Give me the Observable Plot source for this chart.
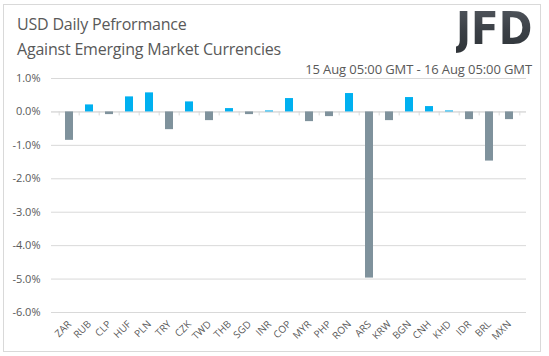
<!DOCTYPE html>
<html>
<head>
<meta charset="utf-8">
<script src="https://cdn.jsdelivr.net/npm/d3@7"></script>
<script src="https://cdn.jsdelivr.net/npm/@observablehq/plot@0.6"></script>
<style>
  html, body { margin: 0; padding: 0; background: #fff; }
  #wrap { position: relative; width: 549px; height: 356px; overflow: hidden; font-family: "Open Sans", Lato, sans-serif; }
  #frame { position: absolute; left: 3px; top: 4px; width: 538px; height: 348px; border: 1px solid #d9d9d9; box-sizing: border-box; pointer-events: none; }
  #title { position: absolute; left: 17px; top: 12px; font-size: 16px; line-height: 25px; color: #595959; letter-spacing: -0.2px; }
  #sub { position: absolute; right: 17px; top: 60px; font-size: 13px; color: #595959; letter-spacing: -0.1px; }
  #logo { position: absolute; left: 456px; top: 2px; font-family: "DejaVu Sans Condensed", "DejaVu Sans", sans-serif; font-weight: bold; font-size: 45px; letter-spacing: 0px;
          background: linear-gradient(180deg, #555a61 0%, #3a3f45 55%, #2f3338 100%); -webkit-background-clip: text; background-clip: text; color: transparent; }
  #chart { position: absolute; left: 0; top: 0; }
</style>
</head>
<body>
<div id="wrap">
  <div id="chart"></div>
  <div id="title">USD Daily Pefrormance<br>Against Emerging Market Currencies</div>
  <div id="sub">15 Aug 05:00 GMT - 16 Aug 05:00 GMT</div>
  <div id="logo">JFD</div>
  <div id="frame"></div>
</div>
<script>
const currencies = ["ZAR","RUB","CLP","HUF","PLN","TRY","CZK","TWD","THB","SGD","INR","COP","MYR","PHP","RON","ARS","KRW","BGN","CNH","KHD","IDR","BRL","MXN"];
const changes = [-0.85, 0.21, -0.08, 0.45, 0.57, -0.53, 0.30, -0.26, 0.10, -0.08, 0.03, 0.40, -0.29, -0.14, 0.55, -4.97, -0.26, 0.43, 0.16, 0.03, -0.23, -1.47, -0.23];
const yTicks = [1, 0, -1, -2, -3, -4, -5, -6];

const data = currencies.map((c, i) => ({ cur: c, v: changes[i] }));
const fmt = d => (d < 0 ? "-" : "") + Math.abs(d).toFixed(1) + "%";

const W = 549, ML = 51, MR = 23;
const step = (W - ML - MR) / currencies.length;

const chart = Plot.plot({
  width: W,
  height: 356,
  marginLeft: ML,
  marginRight: MR,
  marginTop: 78,
  marginBottom: 44,
  style: { fontFamily: "'Open Sans', Lato, sans-serif", fontSize: "11px", color: "#595959", background: "transparent" },
  x: { domain: currencies, paddingInner: 0.6, paddingOuter: 0.3, label: null },
  y: { domain: [-6, 1], label: null },
  marks: [
    Plot.gridY(yTicks, { stroke: "#d9d9d9", strokeOpacity: 1 }),
    Plot.ruleY([0], { stroke: "#d9d9d9", strokeWidth: 1 }),
    Plot.ruleX(currencies, { x: d => d, y1: 0, y2: 0, dx: -step / 2, insetBottom: -4, stroke: "#d9d9d9" }),
    Plot.ruleX(currencies.slice(-1), { x: d => d, y1: 0, y2: 0, dx: step / 2, insetBottom: -4, stroke: "#d9d9d9" }),
    Plot.barY(data, { x: "cur", y: "v", fill: d => d.v >= 0 ? "#00b0f0" : "#7f929c" }),
    Plot.axisY(yTicks, { tickFormat: fmt, tickSize: 0, tickPadding: 11, fontSize: 11, fill: "#595959", label: null }),
    Plot.axisX({ tickSize: 0, tickRotate: -45, tickPadding: 10, fontSize: 10, fill: "#595959", label: null })
  ]
});
document.getElementById("chart").appendChild(chart);
</script>
</body>
</html>
